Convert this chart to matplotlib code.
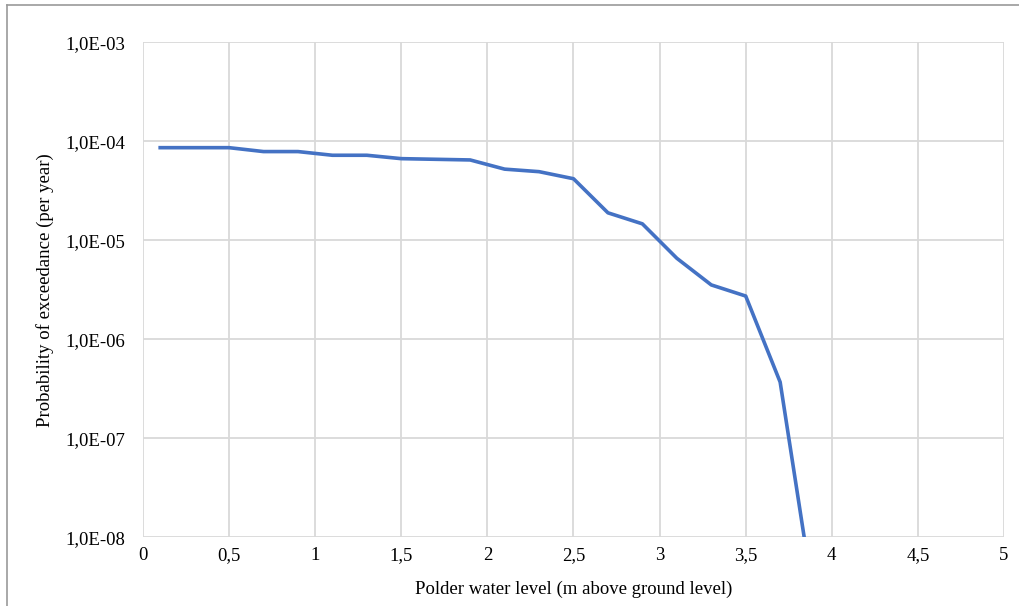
import math
import matplotlib
matplotlib.use("Agg")
import matplotlib.pyplot as plt
from matplotlib.lines import Line2D
from matplotlib.ticker import FixedLocator, FuncFormatter, NullLocator

# polder water level (m) and exceedance probability per year
levels = [0.1, 0.3, 0.5, 0.7, 0.9, 1.1, 1.3, 1.5, 1.7, 1.9,
          2.1, 2.3, 2.5, 2.7, 2.9, 3.1, 3.3, 3.5, 3.7, 3.9]
prob = [8.65e-5, 8.65e-5, 8.65e-5, 7.9e-5, 7.9e-5, 7.25e-5, 7.25e-5, 6.7e-5, 6.6e-5, 6.5e-5,
        5.25e-5, 4.95e-5, 4.2e-5, 1.9e-5, 1.47e-5, 6.6e-6, 3.55e-6, 2.74e-6, 3.7e-7, 2.1e-9]

x_ticks = [0, 0.5, 1, 1.5, 2, 2.5, 3, 3.5, 4, 4.5, 5]
y_ticks = [1e-8, 1e-7, 1e-6, 1e-5, 1e-4, 1e-3]

plt.rcParams['font.family'] = ['Liberation Serif', 'DejaVu Serif']

fig = plt.figure(figsize=(10.19, 6.06), dpi=100)
ax = fig.add_axes([0.1403, 0.1134, 0.9853 - 0.1403, 0.9299 - 0.1134])

ax.plot(levels, prob, color='#4472C4', linewidth=2.6, solid_joinstyle='round')

ax.set_yscale('log')
ax.set_xlim(0, 5)
ax.set_ylim(1e-8, 1e-3)

ax.xaxis.set_major_locator(FixedLocator(x_ticks))
ax.yaxis.set_major_locator(FixedLocator(y_ticks))
ax.yaxis.set_minor_locator(NullLocator())
ax.xaxis.set_major_formatter(FuncFormatter(lambda v, p: f'{v:g}'.replace('.', ',')))
ax.yaxis.set_major_formatter(FuncFormatter(lambda v, p: '1,0E-%02d' % round(-math.log10(v))))

ax.grid(True, color='#d9d9d9', linewidth=1.3)
ax.set_axisbelow(True)
for s in ax.spines.values():
    s.set_visible(False)
ax.tick_params(length=0, labelsize=13.5)
ax.tick_params(axis='x', pad=7)
ax.tick_params(axis='y', pad=13)

ax.set_xlabel('Polder water level (m above ground level)', fontsize=13.5, labelpad=12)
ax.set_ylabel('Probability of exceedance (per year)', fontsize=13.5, labelpad=8)

# thin grey frame along the top and left edge of the picture
fig.add_artist(Line2D([0.007, 0.007], [0, 0.991], color='#9a9a9a', linewidth=1.2))
fig.add_artist(Line2D([0.007, 1.0], [0.991, 0.991], color='#9a9a9a', linewidth=1.2))

fig.savefig('out.png', dpi=100, facecolor='white')
